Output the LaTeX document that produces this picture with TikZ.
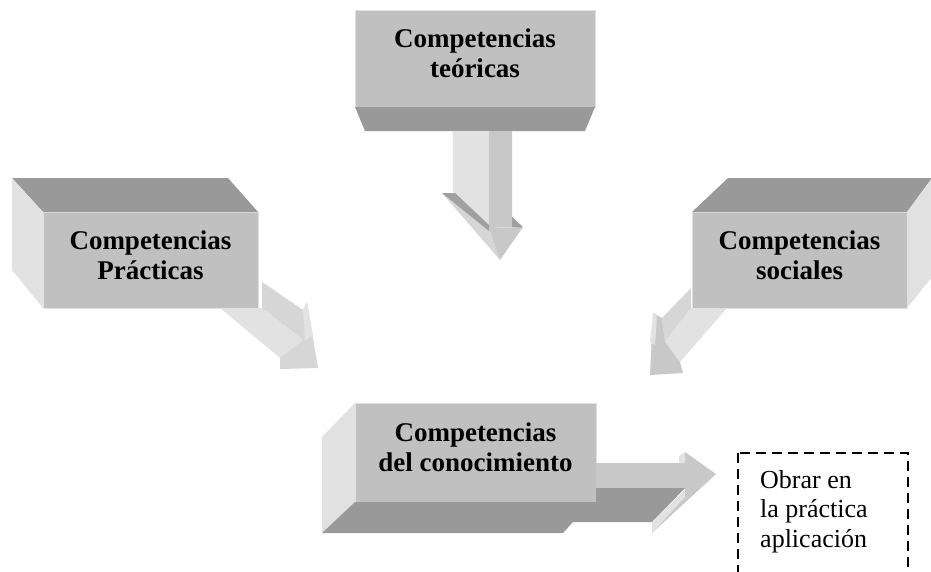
\documentclass[tikz,border=0pt]{standalone}
\usepackage{fontspec}
\setmainfont{Liberation Serif}

\definecolor{facefront}{RGB}{192,192,192}
\definecolor{facedark}{RGB}{153,153,153}
\definecolor{facelight}{RGB}{225,225,225}
\definecolor{arrowlight}{RGB}{226,226,226}
\definecolor{arrowpale}{RGB}{214,214,214}
\definecolor{arrowmid}{RGB}{200,200,200}
\definecolor{arrowdark}{RGB}{160,160,160}

\begin{document}
\begin{tikzpicture}[
        x = 1pt, y = -1pt,
        face/.style = {
                fill = facefront,
                draw = facelight,
                line width = 0.5pt,
                minimum width = #1,
                inner sep = 0pt,
                outer sep = 0pt
            },
            face/.default = 240pt,
        boxtext/.style = {
                font = \bfseries\fontsize{27}{30}\selectfont,
                align = center,
                yshift = 5pt
            },
        dashbox/.style = {
                line width = 1.8pt,
                dash pattern = on 10pt off 6pt
            }
        ]
        \useasboundingbox (0,0) rectangle (931,571);
        \clip (0,0) rectangle (931,571);

        \node[face=240pt, minimum height=97pt, label={[boxtext]center:Competencias\\teóricas}] (teo) at (475,58.5) {};
        \node[face=215pt, minimum height=96pt, label={[boxtext]center:Competencias\\Prácticas}] (pra) at (150.5,260) {};
        \node[face=215pt, minimum height=96pt, label={[boxtext]center:Competencias\\sociales}] (soc) at (799.5,260) {};
        \node[face=241pt, minimum height=99pt, label={[boxtext]center:Competencias\\del conocimiento}] (con) at (475.5,452.5) {};

        % depth faces
        \fill[facedark] (teo.south west) -- (teo.south east) -- ++(-10,24) -- ([shift={(10,24)}]teo.south west) -- cycle;
        \fill[facedark] (pra.north west) -- (pra.north east) -- ++(-30,-34) -- ([shift={(-31,-34)}]pra.north west) -- cycle;
        \fill[facelight] (pra.north west) -- ++(-31,-34) -- ([shift={(-31,-38)}]pra.south west) -- (pra.south west) -- cycle;
        \fill[facedark] (soc.north west) -- (soc.north east) -- ++(25,-34) -- ([shift={(36,-34)}]soc.north west) -- cycle;
        \fill[facelight] (soc.north east) -- ++(25,-34) -- ++(0,99) -- (soc.south east) -- cycle;
        \fill[facelight] (con.north west) -- ++(-33,34) -- ++(0,96) -- (con.south west) -- cycle;
        \fill[facedark] (con.south west) -- (con.south east) -- (596,488) -- (685,488) -- (652,522) -- (573,522) -- (563,533) -- (322,533) -- cycle;

        % arrow from teo
        \fill[arrowlight] (453,131) -- (489,131) -- (489,228) -- (453,195) -- cycle;
        \fill[arrowmid] (489,131) -- (512,131) -- (512,227) -- (489,228) -- cycle;
        \fill[arrowpale] (442,193) -- (489,228) -- (500,260) -- cycle;
        \fill[arrowdark] (442,193) -- (455,193) -- (489,225) -- (489,231) -- cycle;
        \fill[arrowmid] (489,228) -- (523,227) -- (500,260) -- cycle;
        \fill[arrowdark] (512,217) -- (523,227) -- (512,227) -- cycle;

        % arrow from pra
        \fill[arrowpale] (262,282) -- (303,310) -- (303,340) -- (262,308) -- cycle;
        \fill[arrowlight] (220,308) -- (262,308) -- (303,340) -- (280,358) -- cycle;
        \fill[arrowpale] (303,310) -- (307,302) -- (318,368) -- (280,369) -- (280,358) -- (303,340) -- cycle;
        \fill[arrowlight] (303,310) -- (307,302) -- (313,336) -- (305,340) -- cycle;

        % arrow from soc
        \fill[arrowpale] (691,288) -- (691,308) -- (665,342) -- (662,318) -- cycle;
        \fill[arrowlight] (691,308) -- (727,308) -- (680,362) -- (665,342) -- cycle;
        \fill[arrowmid] (653,313) -- (662,318) -- (665,342) -- (680,362) -- (683,373) -- (650,375) -- cycle;
        \fill[arrowlight] (650,342) -- (653,313) -- (657,317) -- (655,345) -- cycle;

        % arrow from con
        \fill[arrowmid] (596,463) -- (685,463) -- (685,488) -- (596,488) -- cycle;
        \fill[arrowmid] (685,452) -- (716,474) -- (652,533) -- (652,522) -- (685,490) -- cycle;
        \fill[arrowlight] (652,522) -- (685,490) -- (685,497) -- (652,533) -- cycle;
        \fill[arrowlight] (679,456) -- (685,452) -- (685,463) -- (679,463) -- cycle;

        \node[font=\fontsize{26}{29.5}\selectfont, align=left, inner sep=0pt, anchor=north west] (obrar) at (760,470) {Obrar en\\la práctica\\aplicación};
        \draw[dashbox] ([shift={(-22,-17)}]obrar.north west) rectangle ([shift={(40,40)}]obrar.south east);

    \end{tikzpicture}
\end{document}
